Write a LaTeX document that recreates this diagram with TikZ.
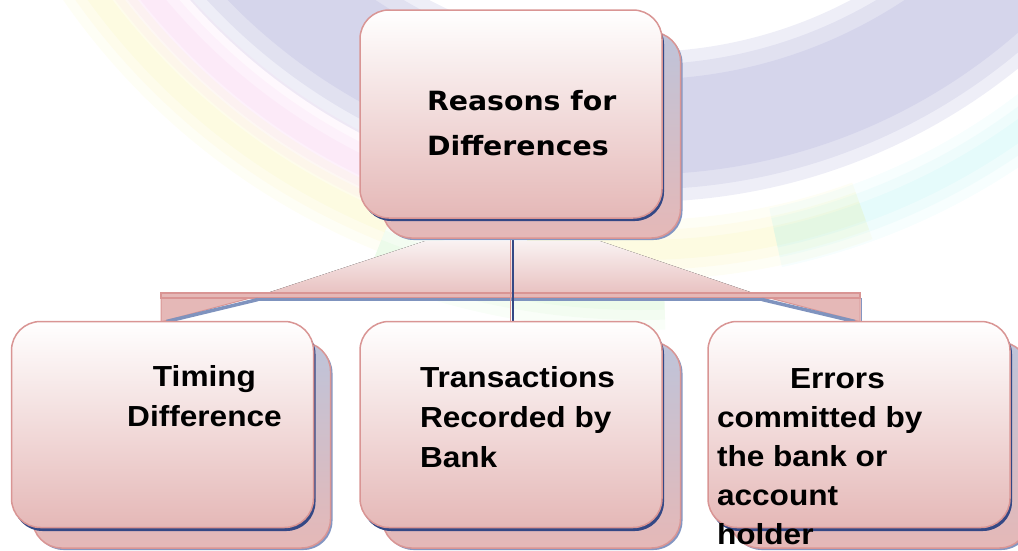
\documentclass[tikz,border=0pt]{standalone}
\usepackage{fontspec}
\newfontfamily\rootfont[FakeStretch=1.07]{DejaVu Sans Bold}
\newfontfamily\boxfont[FakeStretch=1.09]{Liberation Sans Bold}
\usetikzlibrary{calc}
\definecolor{pinkline}{RGB}{217,149,148}
\definecolor{pinkfill}{RGB}{229,184,183}
\definecolor{darkshade}{RGB}{52,72,133}
\definecolor{lightshade}{RGB}{132,150,194}
\definecolor{greyblue}{RGB}{190,196,218}
\definecolor{paleblue}{RGB}{127,147,190}
\definecolor{wmband}{RGB}{178,178,218}
\definecolor{traptop}{RGB}{249,242,242}
\definecolor{wmpink}{RGB}{240,160,225}
\definecolor{wmyellow}{RGB}{245,235,120}
\definecolor{wmgreen}{RGB}{170,235,160}
\definecolor{wmcyan}{RGB}{140,235,235}
\pgfdeclarelayer{wm}
\pgfdeclarelayer{bg}
\pgfsetlayers{wm,bg,main}
\newcommand\wmrim[4]{%
  \draw[#1, line width=60pt, draw opacity=0.07] ($(wm)+(#3:#2)$) arc[start angle=#3, end angle=#4, radius=#2];
  \draw[#1, line width=40pt, draw opacity=0.08] ($(wm)+(#3:#2)$) arc[start angle=#3, end angle=#4, radius=#2];
  \draw[#1, line width=20pt, draw opacity=0.09] ($(wm)+(#3:#2)$) arc[start angle=#3, end angle=#4, radius=#2];
}
\tikzset{
  box/.style={rectangle, rounded corners=29pt, inner sep=0pt, outer sep=0pt},
  frontbox/.style={box, draw=pinkline, line width=1.5pt, top color=white, bottom color=pinkfill, minimum width=302pt, minimum height=206pt},
  frontshade/.style={box, fill=darkshade, minimum width=302pt, minimum height=206pt},
  backbox/.style={box, draw=pinkline, line width=1.5pt, top color=greyblue, bottom color=pinkfill, minimum width=298pt, minimum height=206pt},
  backshade/.style={box, fill=lightshade, minimum width=298pt, minimum height=206pt},
  txt/.style={inner sep=0pt, outer sep=0pt, text=black}
}
\begin{document}
\begin{tikzpicture}[x=1pt,y=-1pt]
\useasboundingbox (0,0) rectangle (1018,550);
\clip (0,0) rectangle (1018,550);

% watermark
\begin{pgfonlayer}{wm}
\coordinate (wm) at (640,-400);
\draw[wmband, line width=150pt, draw opacity=0.22] (wm) circle[radius=527];
\draw[wmband, line width=125pt, draw opacity=0.22] (wm) circle[radius=527];
\draw[wmband, line width=95pt, draw opacity=0.25] (wm) circle[radius=527];
\wmrim{wmpink}{630}{105}{165}
\wmrim{wmyellow}{672}{112}{160}
\wmrim{wmyellow}{650}{70}{100}
\wmrim{wmgreen}{700}{88}{112}
\wmrim{wmcyan}{652}{40}{78}
\end{pgfonlayer}

% boxes: root
\node[backshade] (rootbs) at (533.5,137) {};
\node[backbox] (rootback) at (531.5,135) {};
\node[frontshade] (rootfs) at (513,118) {};
\node[frontbox, minimum height=208pt] (root) at (511,114) {};

% children
\node[backshade] (timbs) at (183.5,447) {};
\node[backbox] (timback) at (181.5,445) {};
\node[frontshade] (timfs) at (164.5,428) {};
\node[frontbox] (tim) at (162.5,424.5) {};

\node[backshade] (midbs) at (533.5,447) {};
\node[backbox] (midback) at (531.5,445) {};
\node[frontshade] (midfs) at (513,428) {};
\node[frontbox] (mid) at (511,424.5) {};

\node[backshade] (errbs) at (881.5,447) {};
\node[backbox] (errback) at (879.5,445) {};
\node[frontshade] (errfs) at (861,428) {};
\node[frontbox] (err) at (859,424.5) {};

% connector
\begin{pgfonlayer}{bg}
\coordinate (cTL) at (425,241);
\coordinate (cTR) at (600,241);
\coordinate (cBL) at (258,296);
\coordinate (cBR) at (762,296);
\coordinate (barL) at (161,293);
\coordinate (barR) at (860,293);
\fill[top color=traptop, bottom color=pinkfill!90!white] (cTL) -- (cTR) -- (cBR) -- (cBL) -- cycle;
\draw[pinkline, line width=1pt, fill=pinkfill] (barL) -- (barL |- tim.north) -- (tim.north) -- (cBL) -- cycle;
\draw[pinkline, line width=1pt, fill=pinkfill] (barR) -- (barR |- err.north) -- (err.north) -- (cBR) -- cycle;
\draw[pinkline, line width=1.2pt, fill=pinkfill] (barL) rectangle ($(barR)+(0,5)$);
\draw[paleblue, line width=2.5pt] ($(cBL)+(0,3.5)$) -- ($(cBR)+(0,3.5)$);
\draw[paleblue, line width=3.5pt] ($(cBL)+(0,3.5)$) -- ($(tim.north)+(4,0)$);
\draw[paleblue, line width=3.5pt] ($(cBR)+(0,3.5)$) -- ($(err.north)+(-4,0)$);
\draw[lightshade, line width=1.5pt] ($(barR)+(1.5,5)$) -- ($(barR |- err.north)+(1.5,0)$);
\draw[pinkline, line width=1.5pt] ($(root.south)+(-0.5,0)$) -- ($(mid.north)+(-0.5,0)$);
\draw[darkshade, line width=2pt] ($(root.south)+(1.5,0)$) -- ($(mid.north)+(1.5,0)$);
\end{pgfonlayer}

% texts
\node[txt, anchor=base west] (roottxt) at (427,110)
  {\rootfont\fontsize{26.5}{45}\selectfont\begin{tabular}[t]{@{}l@{}}Reasons for\\Differences\end{tabular}};
\node[txt, anchor=base] (timtxt) at (204.5,386)
  {\boxfont\fontsize{29}{40}\selectfont\begin{tabular}[t]{@{}c@{}}Timing\\Difference\end{tabular}};
\node[txt, anchor=base west] (midtxt) at (420,387)
  {\boxfont\fontsize{29}{40}\selectfont\begin{tabular}[t]{@{}l@{}}Transactions\\Recorded by\\Bank\end{tabular}};
\node[txt, anchor=base west] (errtxt) at (717,388)
  {\boxfont\fontsize{29}{39}\selectfont\begin{tabular}[t]{@{}l@{}}\hspace*{73pt}Errors\\committed by\\the bank or\\account\\holder\end{tabular}};
\end{tikzpicture}
\end{document}
